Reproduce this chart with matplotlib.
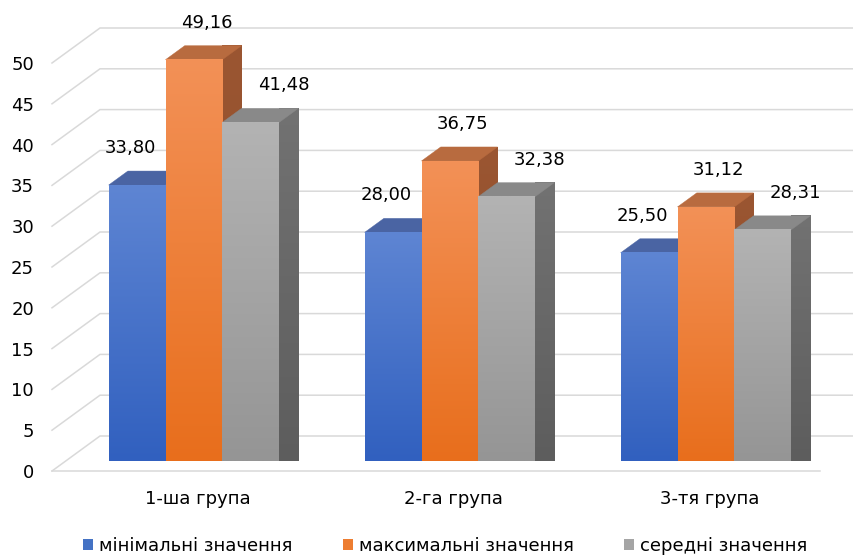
import numpy as np
import matplotlib.pyplot as plt
from matplotlib.patches import Polygon, Patch
from matplotlib.colors import LinearSegmentedColormap

# ---- data ----
groups = ['1-ша група', '2-га група', '3-тя група']
series_names = ['мінімальні значення', 'максимальні значення', 'середні значення']
min_vals = [33.80, 28.00, 25.50]
max_vals = [49.16, 36.75, 31.12]
mean_vals = [41.48, 32.38, 28.31]
y_ticks = list(range(0, 51, 5))

plt.rcParams['font.family'] = ['DejaVu Sans']
FS = 13

# ---- styling per series: (front top, front bottom, top face, side top, side bottom, legend) ----
styles = [
    dict(ft='#5e85d3', fb='#3160bf', top='#4a64a3', st='#3a5a9c', sb='#2c4c8c', leg='#4472c4', lab=-7),
    dict(ft='#f39157', fb='#e86e1c', top='#b86b3f', st='#9b5632', sb='#8a4a26', leg='#ed7d31', lab=13),
    dict(ft='#b3b3b3', fb='#959595', top='#898989', st='#727272', sb='#5d5d5d', leg='#a5a5a5', lab=33),
]

W, H = 854, 556
fig = plt.figure(figsize=(W / 100, H / 100), dpi=100)

# pixel geometry of the front-left floor corner and scales
X0, Y0 = 52, 471
PX_CAT = 256.0
PX_VAL = 8.16
ax = fig.add_axes([X0 / W, (H - Y0) / H, (W - X0) / W, Y0 / H])

# oblique depth vector of the whole floor, in data units
DX = 48 / PX_CAT
DY = 35 / PX_VAL

# bars: width and placement in depth
BAR_W = 0.222
GAP = (1 - 3 * BAR_W) / 2
F0, FD = 0.29, 0.40

# gridlines: left wall diagonals + back wall horizontals
for v in y_ticks:
    ax.plot([0, DX, 3 + DX], [v, v + DY, v + DY], color='#d9d9d9', lw=1.1,
            zorder=1, solid_joinstyle='miter', clip_on=False)
ax.plot([0, 3], [0, 0], color='#d9d9d9', lw=1.1, zorder=1, clip_on=False)

grad = np.linspace(0, 1, 256).reshape(-1, 1)


def gradient(ax, extent, c_bottom, c_top, z, clip=None):
    cmap = LinearSegmentedColormap.from_list('g', [c_bottom, c_top])
    im = ax.imshow(grad, extent=extent, origin='lower', cmap=cmap, aspect='auto',
                   interpolation='bilinear', zorder=z)
    im.set_clip_on(False)
    if clip is not None:
        im.set_clip_path(clip)
    return im


all_vals = [min_vals, max_vals, mean_vals]
z = 2.0
for i in range(len(groups)):
    for j, vals in enumerate(all_vals):
        st = styles[j]
        v = vals[i]
        x = i + GAP + j * BAR_W + F0 * DX
        yb = F0 * DY
        ddx, ddy = FD * DX, FD * DY
        # right side face
        side = Polygon([(x + BAR_W, yb), (x + BAR_W + ddx, yb + ddy),
                        (x + BAR_W + ddx, yb + v + ddy), (x + BAR_W, yb + v)],
                       closed=True, facecolor=st['sb'], edgecolor='none', zorder=z, clip_on=False)
        ax.add_patch(side)
        gradient(ax, (x + BAR_W, x + BAR_W + ddx, yb, yb + v + ddy), st['sb'], st['st'], z + 0.01, clip=side)
        # top face
        top = Polygon([(x, yb + v), (x + BAR_W, yb + v), (x + BAR_W + ddx, yb + v + ddy),
                       (x + ddx, yb + v + ddy)], closed=True, facecolor=st['top'],
                      edgecolor=st['top'], lw=0.3, zorder=z + 0.02, clip_on=False)
        ax.add_patch(top)
        # front face
        gradient(ax, (x, x + BAR_W, yb, yb + v), st['fb'], st['ft'], z + 0.03)
        # value label
        ax.text(x + BAR_W / 2 + st['lab'] / PX_CAT, yb + v + 37 / PX_VAL,
                f'{v:.2f}'.replace('.', ','), ha='center', va='center',
                fontsize=FS, color='#000000', zorder=20, clip_on=False)
        z += 0.1

ax.set_xlim(0, (W - X0) / PX_CAT)
ax.set_ylim(0, Y0 / PX_VAL)

ax.set_yticks(y_ticks)
ax.set_yticklabels([str(t) for t in y_ticks], fontsize=FS)
ax.set_xticks([i + 0.5 + 0.07 for i in range(len(groups))])
ax.set_xticklabels(groups, fontsize=FS)
ax.tick_params(axis='y', length=0, pad=13)
ax.tick_params(axis='x', length=0, pad=14)
for s in ax.spines.values():
    s.set_visible(False)
ax.patch.set_alpha(0)

handles = [Patch(facecolor=s['leg'], edgecolor='none') for s in styles]
fig.legend(handles, series_names, loc='center', bbox_to_anchor=(445 / W, 1 - 546 / H),
           ncol=3, frameon=False, fontsize=FS, handlelength=0.58, handleheight=0.58,
           handletextpad=0.3, columnspacing=2.8, borderpad=0, borderaxespad=0)

fig.savefig('out.png', dpi=100)
